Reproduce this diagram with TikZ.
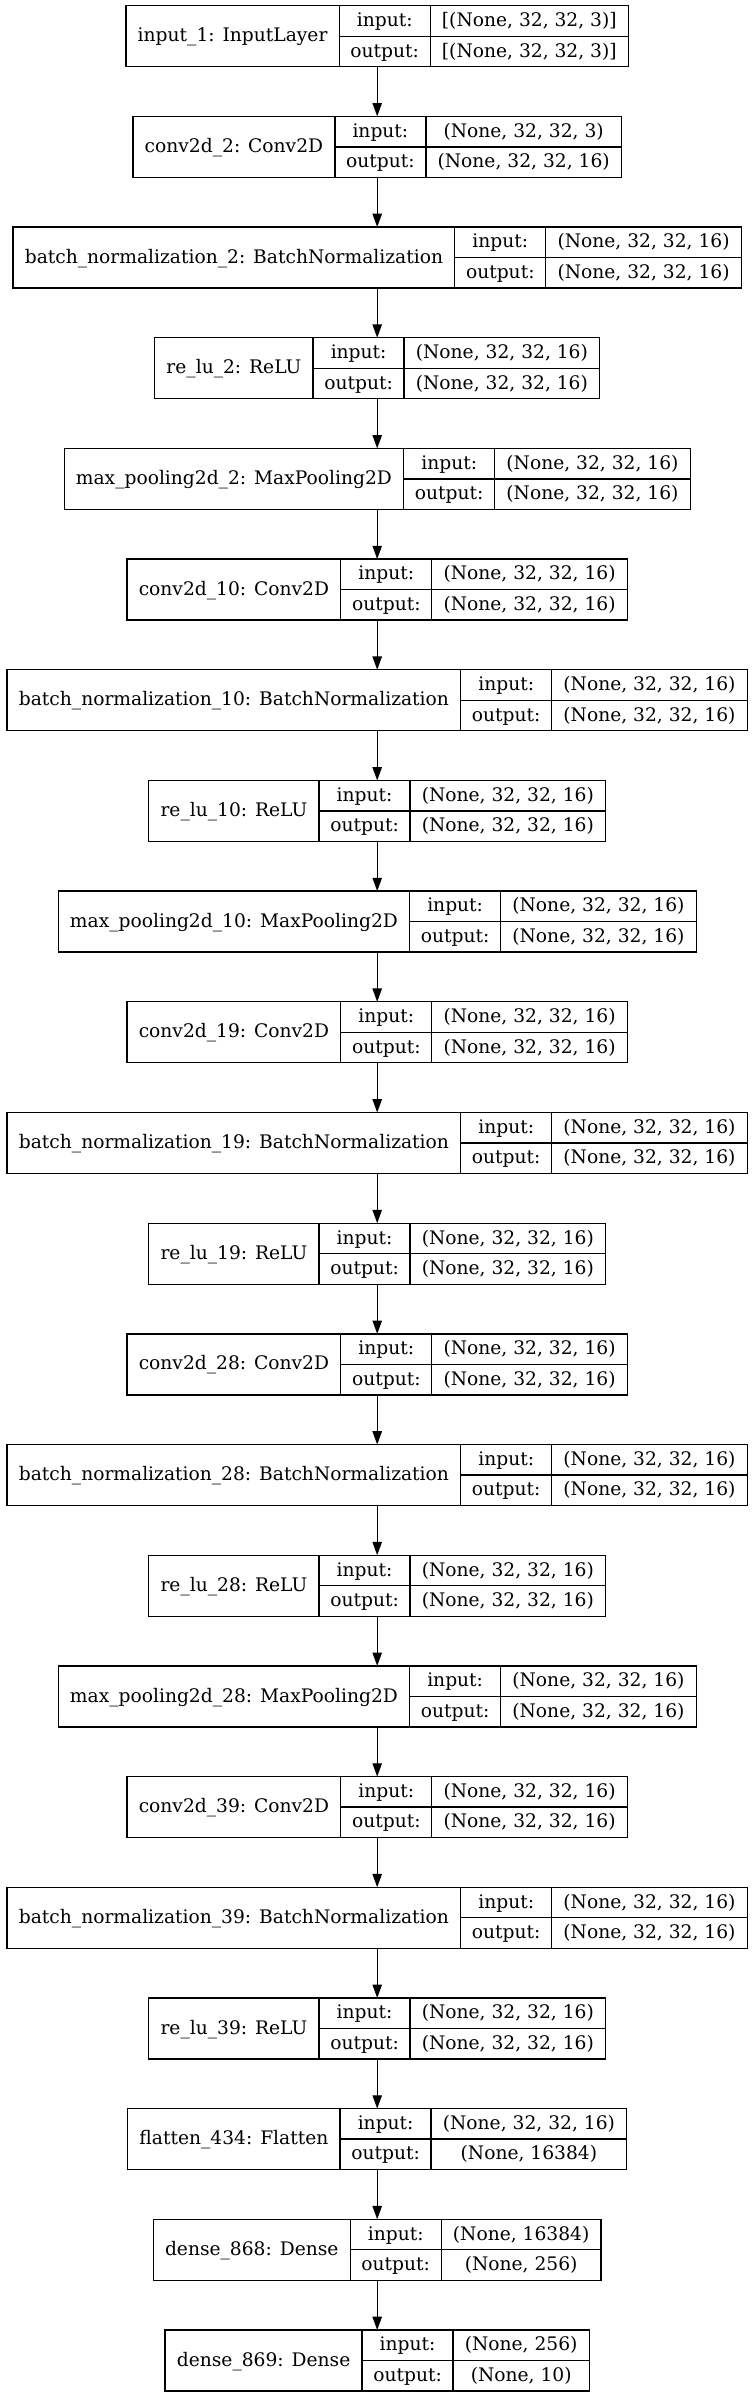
\documentclass[tikz,border=0pt]{standalone}
\usepackage{fontspec}
\setmainfont{DejaVu Serif}
\usetikzlibrary{arrows.meta}
\newlength\recwn
\newlength\recwv
\newlength\recwb
\newcommand\recfont{\fontsize{14}{17}\selectfont}
\tikzset{
  cell/.style={draw=black, line width=1pt, inner sep=0pt, outer sep=0pt, font=\recfont,
    text height=11pt, text depth=2.6pt, align=center},
  recnode/.style={inner sep=0pt, outer sep=0pt, minimum height=45.75pt},
  arr/.style={draw=black, line width=1pt, -{Triangle[length=10pt,width=7pt]}}
}
% measure widths outside the picture: #1 id, #2 name, #3 input, #4 output
\newcommand\recmeasure[4]{%
  \settowidth\recwn{\recfont #2}\addtolength\recwn{17.6pt}%
  \settowidth\recwv{\recfont #3}\settowidth\recwb{\recfont #4}%
  \ifdim\recwb>\recwv \recwv=\recwb\fi
  \addtolength\recwv{17.6pt}%
  \expandafter\xdef\csname recwn#1\endcsname{\the\recwn}%
  \expandafter\xdef\csname recwv#1\endcsname{\the\recwv}%
}
% #1 id, #2 index, #3 name, #4 input shape, #5 output shape
\newcommand\rec[5]{%
  \recwn=\csname recwn#1\endcsname\relax
  \recwv=\csname recwv#1\endcsname\relax
  \pgfmathsetmacro\rectot{\recwn+68.25+\recwv}%
  \pgfmathsetmacro\recy{-(5.7+#2*110.68)*0.75}%
  \pgfmathsetmacro\recL{282.9-\rectot/2}%
  \node[recnode, minimum width=\rectot pt, anchor=north] (#1) at (282.9pt,\recy pt) {};
  \node[cell, minimum width=\recwn, minimum height=45.75pt, anchor=north west] (#1n) at (\recL pt,\recy pt) {#3};
  \node[cell, minimum width=68.25pt, minimum height=22.875pt, anchor=north west] (#1li) at (#1n.north east) {input:};
  \node[cell, minimum width=68.25pt, minimum height=22.875pt, anchor=north west] (#1lo) at (#1li.south west) {output:};
  \node[cell, minimum width=\recwv, minimum height=22.875pt, anchor=north west] (#1vi) at (#1li.north east) {#4};
  \node[cell, minimum width=\recwv, minimum height=22.875pt, anchor=north west] (#1vo) at (#1vi.south west) {#5};
}
\def\sh{(None, 32, 32, 16)}
\newcommand\allrecs[1]{%
#1{r0}{0}{input\_1: InputLayer}{[(None, 32, 32, 3)]}{[(None, 32, 32, 3)]}%
#1{r1}{1}{conv2d\_2: Conv2D}{(None, 32, 32, 3)}{\sh}%
#1{r2}{2}{batch\_normalization\_2: BatchNormalization}{\sh}{\sh}%
#1{r3}{3}{re\_lu\_2: ReLU}{\sh}{\sh}%
#1{r4}{4}{max\_pooling2d\_2: MaxPooling2D}{\sh}{\sh}%
#1{r5}{5}{conv2d\_10: Conv2D}{\sh}{\sh}%
#1{r6}{6}{batch\_normalization\_10: BatchNormalization}{\sh}{\sh}%
#1{r7}{7}{re\_lu\_10: ReLU}{\sh}{\sh}%
#1{r8}{8}{max\_pooling2d\_10: MaxPooling2D}{\sh}{\sh}%
#1{r9}{9}{conv2d\_19: Conv2D}{\sh}{\sh}%
#1{r10}{10}{batch\_normalization\_19: BatchNormalization}{\sh}{\sh}%
#1{r11}{11}{re\_lu\_19: ReLU}{\sh}{\sh}%
#1{r12}{12}{conv2d\_28: Conv2D}{\sh}{\sh}%
#1{r13}{13}{batch\_normalization\_28: BatchNormalization}{\sh}{\sh}%
#1{r14}{14}{re\_lu\_28: ReLU}{\sh}{\sh}%
#1{r15}{15}{max\_pooling2d\_28: MaxPooling2D}{\sh}{\sh}%
#1{r16}{16}{conv2d\_39: Conv2D}{\sh}{\sh}%
#1{r17}{17}{batch\_normalization\_39: BatchNormalization}{\sh}{\sh}%
#1{r18}{18}{re\_lu\_39: ReLU}{\sh}{\sh}%
#1{r19}{19}{flatten\_434: Flatten}{\sh}{(None, 16384)}%
#1{r20}{20}{dense\_868: Dense}{(None, 16384)}{(None, 256)}%
#1{r21}{21}{dense\_869: Dense}{(None, 256)}{(None, 10)}%
}
\newcommand\measurefive[5]{\recmeasure{#1}{#3}{#4}{#5}}
\begin{document}%
\allrecs\measurefive%
\begin{tikzpicture}
\fill[white] (0,0) rectangle (563.25pt,-1797.75pt);
\useasboundingbox (0,0) rectangle (563.25pt,-1797.75pt);
\allrecs\rec
\foreach \a/\b in {0/1,1/2,2/3,3/4,4/5,5/6,6/7,7/8,8/9,9/10,10/11,11/12,12/13,13/14,14/15,15/16,16/17,17/18,18/19,19/20,20/21}
  \draw[arr] (r\a.south) -- (r\b.north);
\end{tikzpicture}%
\end{document}
